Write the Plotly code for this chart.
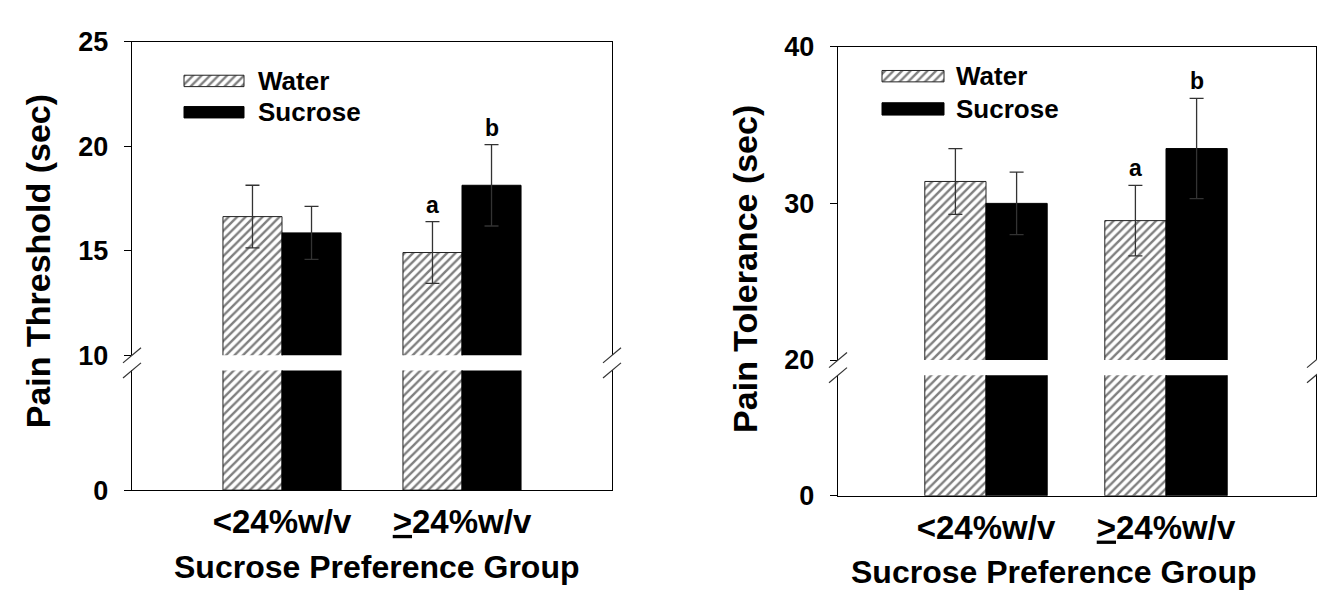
import plotly.graph_objects as go

W, H = 1325, 593

# ---------------- data ----------------
groups = ["<24%w/v", ">=24%w/v"]
tick_text = ["&lt;24%w/v", "<u>></u>24%w/v"]
series = ["Water", "Sucrose"]

thr_water = [16.64, 14.92]
thr_water_err = [1.5, 1.48]
thr_sucrose = [15.86, 18.14]
thr_sucrose_err = [1.27, 1.95]
thr_water_sig = ["", "a"]
thr_sucrose_sig = ["", "b"]

tol_water = [31.4, 28.9]
tol_water_err = [2.1, 2.25]
tol_sucrose = [30.0, 33.5]
tol_sucrose_err = [2.0, 3.2]
tol_water_sig = ["", "a"]
tol_sucrose_sig = ["", "b"]

FONT = "Liberation Sans"
BLACK = "#000000"


def xd(px):
    return px / W


def yd(py):
    return 1 - py / H


fig = go.Figure()

panels = [
    dict(xa="x", ya="y", xl="x2", yl="y2",
         water=thr_water, werr=thr_water_err, suc=thr_sucrose, serr=thr_sucrose_err,
         wsig=thr_water_sig, ssig=thr_sucrose_sig, bw=0.328),
    dict(xa="x3", ya="y3", xl="x4", yl="y4",
         water=tol_water, werr=tol_water_err, suc=tol_sucrose, serr=tol_sucrose_err,
         wsig=tol_water_sig, ssig=tol_sucrose_sig, bw=0.34),
]

hatch = dict(shape="/", size=6, solidity=0.4, fgcolor="#000000", bgcolor="white")

xs = list(range(len(groups)))
for p in panels:
    for part in ("upper", "lower"):
        xa = p["xa"] if part == "upper" else p["xl"]
        ya = p["ya"] if part == "upper" else p["yl"]
        err_w = dict(type="data", array=p["werr"], visible=True, color="#333333",
                     thickness=1.3, width=7) if part == "upper" else None
        err_s = dict(type="data", array=p["serr"], visible=True, color="#333333",
                     thickness=1.3, width=7) if part == "upper" else None
        fig.add_trace(go.Bar(
            x=xs, y=p["water"], name=series[0], xaxis=xa, yaxis=ya,
            width=p["bw"], offset=-p["bw"],
            marker=dict(color="white", line=dict(color="#222222", width=1), pattern=hatch),
            error_y=err_w, showlegend=False, hoverinfo="skip"))
        fig.add_trace(go.Bar(
            x=xs, y=p["suc"], name=series[1], xaxis=xa, yaxis=ya,
            width=p["bw"], offset=0,
            marker=dict(color=BLACK, line=dict(color=BLACK, width=1)),
            error_y=err_s, showlegend=False, hoverinfo="skip"))
    # significance letters
    for i in xs:
        if p["wsig"][i]:
            fig.add_annotation(x=i - p["bw"] / 2, y=p["water"][i] + p["werr"][i],
                               xref=p["xa"], yref=p["ya"], text="<b>%s</b>" % p["wsig"][i],
                               showarrow=False, yanchor="bottom", yshift=2,
                               font=dict(family=FONT, size=23, color=BLACK))
        if p["ssig"][i]:
            fig.add_annotation(x=i + p["bw"] / 2, y=p["suc"][i] + p["serr"][i],
                               xref=p["xa"], yref=p["ya"], text="<b>%s</b>" % p["ssig"][i],
                               showarrow=False, yanchor="bottom", yshift=2,
                               font=dict(family=FONT, size=23, color=BLACK))

tickfont = dict(family=FONT, size=27, color=BLACK, weight="bold")
line_w = 1.4

common_y = dict(showline=True, linecolor=BLACK, linewidth=line_w, mirror=True,
                ticks="outside", ticklen=7, tickcolor=BLACK, tickwidth=line_w,
                ticklabelstandoff=10,
                showgrid=False, zeroline=False, tickfont=tickfont, fixedrange=True)
common_x_up = dict(showline=True, linecolor=BLACK, linewidth=line_w, side="top",
                   showticklabels=False, ticks="", showgrid=False, zeroline=False,
                   fixedrange=True)
common_x_lo = dict(showline=True, linecolor=BLACK, linewidth=line_w,
                   ticks="", showgrid=False, zeroline=False, tickvals=xs, ticktext=tick_text,
                   ticklabelstandoff=2,
                   tickfont=dict(family=FONT, size=33, color=BLACK, weight="bold"),
                   fixedrange=True)

# panel geometry (pixels)
L = dict(x0=124, x1=604, up=(20, 350), lo=(366, 492), cen=274, step=180)
R = dict(x0=830, x1=1308, up=(25, 355), lo=(371, 498), cen=978, step=180)


def xrange_of(g):
    left = -(g["cen"] - g["x0"]) / g["step"]
    return [left, left + (g["x1"] - g["x0"]) / g["step"]]


fig.update_layout(
    xaxis=dict(domain=[xd(L["x0"]), xd(L["x1"])], anchor="y", range=xrange_of(L), **common_x_up),
    yaxis=dict(domain=[yd(L["up"][1]), yd(L["up"][0])], anchor="x", range=[10, 25],
               tickvals=[10, 15, 20, 25], **common_y),
    xaxis2=dict(domain=[xd(L["x0"]), xd(L["x1"])], anchor="y2", range=xrange_of(L), **common_x_lo),
    yaxis2=dict(domain=[yd(L["lo"][1]), yd(L["lo"][0])], anchor="x2", range=[0, 10],
                tickvals=[0], **common_y),
    xaxis3=dict(domain=[xd(R["x0"]), xd(R["x1"])], anchor="y3", range=xrange_of(R), **common_x_up),
    yaxis3=dict(domain=[yd(R["up"][1]), yd(R["up"][0])], anchor="x3", range=[20, 40],
                tickvals=[20, 30, 40], **common_y),
    xaxis4=dict(domain=[xd(R["x0"]), xd(R["x1"])], anchor="y4", range=xrange_of(R), **common_x_lo),
    yaxis4=dict(domain=[yd(R["lo"][1]), yd(R["lo"][0])], anchor="x4", range=[0, 20],
                tickvals=[0], **common_y),
    # pixel overlay for decorations (legend swatches, axis break marks)
    xaxis5=dict(domain=[0, 1], range=[0, W], visible=False, fixedrange=True),
    yaxis5=dict(domain=[0, 1], range=[H, 0], visible=False, fixedrange=True, anchor="x5"),
    barmode="overlay",
    width=W, height=H,
    margin=dict(l=0, r=0, t=0, b=0),
    paper_bgcolor="white", plot_bgcolor="rgba(0,0,0,0)",
    showlegend=False,
)

# legends (manual, wide swatches)
for g, sw in ((L, dict(x0=176, x1=236, wy=(55, 67), sy=(88, 100), tx=248)),
              (R, dict(x0=874, x1=936, wy=(50, 62), sy=(84, 97), tx=946))):
    fig.add_trace(go.Scatter(
        x=[sw["x0"], sw["x1"], sw["x1"], sw["x0"], sw["x0"]],
        y=[sw["wy"][0], sw["wy"][0], sw["wy"][1], sw["wy"][1], sw["wy"][0]],
        xaxis="x5", yaxis="y5", mode="lines", fill="toself", fillcolor="white",
        fillpattern=hatch,
        line=dict(color="#222222", width=1), showlegend=False, hoverinfo="skip"))
    fig.add_shape(type="rect", xref="x5", yref="y5", x0=sw["x0"], x1=sw["x1"],
                  y0=sw["sy"][0], y1=sw["sy"][1], fillcolor=BLACK, line=dict(color=BLACK, width=1))
    for name, yy in ((series[0], sum(sw["wy"]) / 2), (series[1], sum(sw["sy"]) / 2)):
        fig.add_annotation(xref="x5", yref="y5", x=sw["tx"], y=yy, text="<b>%s</b>" % name,
                           showarrow=False, xanchor="left", yanchor="middle",
                           font=dict(family=FONT, size=26, color=BLACK))
    # axis break marks
    for ax_x in (g["x0"], g["x1"]):
        for yy in (g["up"][1], g["lo"][0]):
            fig.add_shape(type="line", xref="x5", yref="y5", x0=ax_x - 9, x1=ax_x + 9,
                          y0=yy + 8, y1=yy - 8, line=dict(color="#333333", width=1.2))

# axis titles
titles = [
    dict(x=30, y=251, text="Pain Threshold (sec)", angle=-90, size=34),
    dict(x=737, y=259, text="Pain Tolerance (sec)", angle=-90, size=34),
    dict(x=368, y=573, text="Sucrose Preference Group", angle=0, size=32),
    dict(x=1045, y=578, text="Sucrose Preference Group", angle=0, size=32),
]
for t in titles:
    fig.add_annotation(xref="x5", yref="y5", x=t["x"], y=t["y"], text="<b>%s</b>" % t["text"],
                       textangle=t["angle"], showarrow=False, xanchor="center", yanchor="middle",
                       font=dict(family=FONT, size=t["size"], color=BLACK))

fig.write_html("out.html")
